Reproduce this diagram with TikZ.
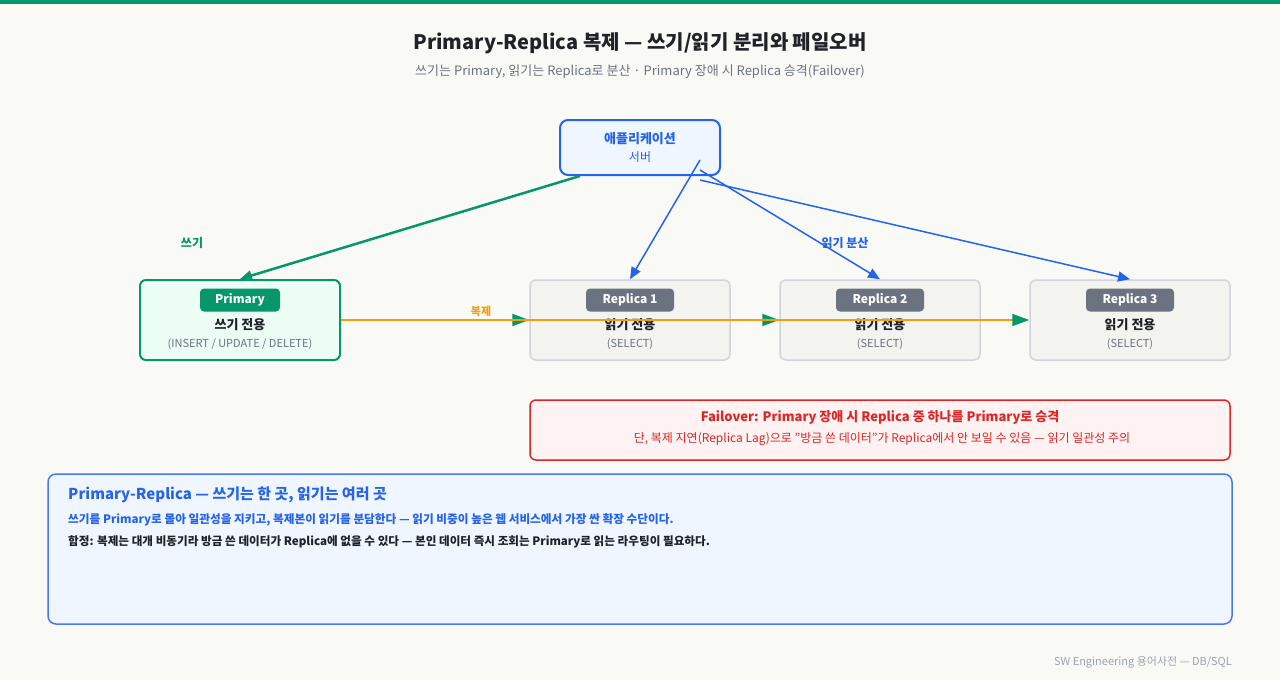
\documentclass[tikz,border=0pt]{standalone}
\usepackage{fontspec}
\setmainfont{Noto Sans CJK KR}
\usetikzlibrary{arrows.meta}
\definecolor{bg}{HTML}{F9FAF6}
\definecolor{grn}{HTML}{059669}
\definecolor{grnfill}{HTML}{ECFDF5}
\definecolor{blu}{HTML}{2563EB}
\definecolor{blufill}{HTML}{EFF6FF}
\definecolor{dark}{HTML}{1F2328}
\definecolor{gry}{HTML}{6B7280}
\definecolor{repfill}{HTML}{F3F3EF}
\definecolor{repline}{HTML}{D1D5DB}
\definecolor{org}{HTML}{F59E0B}
\definecolor{rd}{HTML}{DC2626}
\definecolor{rdfill}{HTML}{FEF2F2}
\definecolor{foot}{HTML}{9CA3AF}
\tikzset{
  box/.style={rounded corners=6pt, minimum width=200pt, minimum height=80pt, inner sep=0pt},
  badge/.style={rounded corners=4pt, minimum height=23pt, inner sep=0pt, text=white, font=\bfseries\fontsize{12}{14}\selectfont},
  maintxt/.style={font=\bfseries\fontsize{13}{15}\selectfont, text=dark, inner sep=0pt},
  subtxt/.style={font=\fontsize{11}{13}\selectfont, text=gry, inner sep=0pt},
  tip/.style={-{Triangle[length=12pt,width=10pt]}},
}
\begin{document}
\begin{tikzpicture}[x=1pt,y=-1pt]
\useasboundingbox (0,0) rectangle (1280,680);
\fill[bg] (0,0) rectangle (1280,680);
\fill[grn] (0,0) rectangle (1280,4);
\node[font=\bfseries\fontsize{20}{24}\selectfont, text=dark] (title) at (640,43) {Primary-Replica 복제 — 쓰기/읽기 분리와 페일오버};
\node[font=\fontsize{13}{15}\selectfont, text=gry] (subtitle) at (640,72) {쓰기는 Primary, 읽기는 Replica로 분산 · Primary 장애 시 Replica 승격(Failover)};
% app
\node[draw=blu, line width=2pt, fill=blufill, rounded corners=8pt, minimum width=160pt, minimum height=55pt, inner sep=0pt] (app) at (640,147.5) {};
\node[font=\bfseries\fontsize{13}{15}\selectfont, text=blu] (appt) at (640,139) {애플리케이션};
\node[font=\fontsize{12}{14}\selectfont, text=blu] (apps) at (640,157) {서버};
% primary
\node[box, draw=grn, line width=2pt, fill=grnfill] (pri) at (240,320) {};
\node[badge, fill=grn, minimum width=80pt] (prib) at (240,300) {Primary};
\node[maintxt] (prim) at (240,325) {쓰기 전용};
\node[subtxt] (pris) at (240,344) {(INSERT / UPDATE / DELETE)};
% replicas
\foreach \i/\x in {1/630,2/880,3/1130}{
  \node[box, draw=repline, line width=1.5pt, fill=repfill] (r\i) at (\x,320) {};
  \node[badge, fill=gry, minimum width=88pt] (r\i b) at (\x,300) {Replica \i};
  \node[maintxt] (r\i m) at (\x,325) {읽기 전용};
  \node[subtxt] (r\i s) at (\x,344) {(SELECT)};
}
% write arrow
\coordinate (w0) at (580,176);
\draw[grn, line width=2.5pt, tip] (w0) -- (pri.north);
\node[font=\bfseries\fontsize{12}{14}\selectfont, text=grn] (wl) at (192,243) {쓰기};
% read arrows
\coordinate (b1) at (700,160);
\coordinate (b2) at (700,170);
\coordinate (b3) at (700,180);
\draw[blu, line width=1.5pt, tip] (b1) -- (r1.north);
\draw[blu, line width=1.5pt, tip] (b2) -- (r2.north);
\draw[blu, line width=1.5pt, tip] (b3) -- (r3.north);
\node[font=\bfseries\fontsize{12}{14}\selectfont, text=blu] (rl) at (845,243) {읽기 분산};
% replication
\foreach \i in {1,2,3}{
  \draw[org, line width=2pt, -{Triangle[length=17pt,width=12pt,fill=grn,color=grn]}] (pri.east) -- (r\i.west);
}
\node[font=\bfseries\fontsize{11}{13}\selectfont, text=org] (repl) at (481,311) {복제};
% failover
\node[draw=rd, line width=1.5pt, fill=rdfill, rounded corners=6pt, minimum width=700pt, minimum height=60pt, inner sep=0pt] (fo) at (880,430) {};
\node[font=\bfseries\fontsize{13}{15}\selectfont, text=rd] (fot) at (880,417) {Failover: Primary 장애 시 Replica 중 하나를 Primary로 승격};
\node[font=\fontsize{12}{14}\selectfont, text=rd] (fos) at (882,439) {단, 복제 지연(Replica Lag)으로 \symbol{34}방금 쓴 데이터\symbol{34}가 Replica에서 안 보일 수 있음 — 읽기 일관성 주의};
% bottom
\node[draw=blu!85!white, line width=1.5pt, fill=blufill, rounded corners=8pt, minimum width=1184pt, minimum height=150pt, inner sep=0pt] (note) at (640,549) {};
\node[anchor=west, font=\bfseries\fontsize{15}{18}\selectfont, text=blu, inner sep=0pt] (n1) at (68,495) {Primary-Replica — 쓰기는 한 곳, 읽기는 여러 곳};
\node[anchor=west, font=\bfseries\fontsize{11.65}{14}\selectfont, text=blu, inner sep=0pt] (n2) at (68,520) {쓰기를 Primary로 몰아 일관성을 지키고, 복제본이 읽기를 분담한다 — 읽기 비중이 높은 웹 서비스에서 가장 싼 확장 수단이다.};
\node[anchor=west, font=\bfseries\fontsize{11.6}{14}\selectfont, text=dark, inner sep=0pt] (n3) at (68,542) {함정: 복제는 대개 비동기라 방금 쓴 데이터가 Replica에 없을 수 있다 — 본인 데이터 즉시 조회는 Primary로 읽는 라우팅이 필요하다.};
\node[anchor=east, font=\fontsize{11}{13}\selectfont, text=foot, inner sep=0pt] (ft) at (1232,662) {SW Engineering 용어사전 — DB/SQL};
\end{tikzpicture}
\end{document}
